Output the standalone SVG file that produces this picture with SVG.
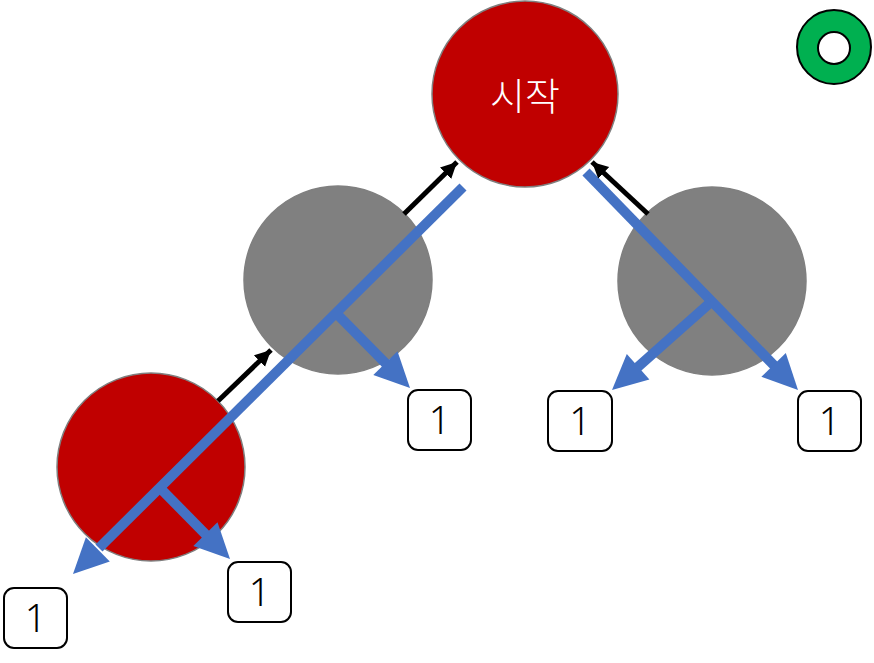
<svg xmlns="http://www.w3.org/2000/svg" width="874" height="663" viewBox="0 0 874 663">
<style>
.red{fill:#C00000;stroke:#7F7F7F;stroke-width:1.5}
.gray{fill:#808080;stroke:#7F7F7F;stroke-width:1.5}
.blue{stroke:#4472C4;stroke-width:10;fill:none}
.bh{fill:#4472C4}
.blk{stroke:#000;stroke-width:5;fill:none}
.box{fill:#fff;stroke:#000;stroke-width:2}
.num{font-family:"Noto Sans","Liberation Sans",sans-serif;font-size:38px;font-weight:300;fill:#000;text-anchor:middle}
</style>
<defs>
<marker id="kh" viewBox="0 0 10 10" refX="10" refY="5" markerWidth="3.2" markerHeight="4" orient="auto" markerUnits="strokeWidth">
<path d="M0,0 L10,5 L0,10 Z" fill="#000"/>
</marker>
</defs>
<g id="start"><circle class="red" cx="525" cy="94" r="93"/><text x="525" y="110" font-family="'Noto Sans CJK KR','Noto Sans',sans-serif" font-size="38" font-weight="300" fill="#fff" text-anchor="middle">시작</text></g>
<g id="nodeL"><circle class="gray" cx="338" cy="280" r="94"/></g>
<g id="nodeR"><circle class="gray" cx="712" cy="281" r="94"/></g>
<g id="nodeLL"><circle class="red" cx="151" cy="467" r="94"/></g>
<g id="ring"><circle cx="834" cy="47" r="37" fill="#00B050" stroke="#000" stroke-width="2"/><circle cx="834" cy="48" r="16" fill="#fff" stroke="#000" stroke-width="2"/></g>
<g id="connectors">
<line class="blue" x1="463" y1="187" x2="99" y2="548"/>
<polygon class="bh" points="73,574 109.8,561.4 85.9,537.3"/>
<line class="blue" x1="336" y1="313" x2="386.5" y2="364.2"/>
<polygon class="bh" points="410,388 373.3,375 397.5,351.2"/>
<line class="blue" x1="160" y1="488" x2="206.5" y2="535.2"/>
<polygon class="bh" points="230,559 193.3,546 217.5,522.2"/>
<line class="blue" x1="586" y1="172" x2="774.6" y2="366"/>
<polygon class="bh" points="798,390 761.4,376.8 785.8,353.1"/>
<line class="blue" x1="711" y1="302" x2="637" y2="367.8"/>
<polygon class="bh" points="612,390 649.4,379.5 626.8,354.1"/>
<line class="blk" x1="404" y1="214" x2="457" y2="162" marker-end="url(#kh)"/>
<line class="blk" x1="218" y1="401" x2="271" y2="350" marker-end="url(#kh)"/>
<line class="blk" x1="648" y1="214" x2="592" y2="162" marker-end="url(#kh)"/>
</g>
<g id="box1"><rect class="box" x="4" y="588" width="63" height="60" rx="10"/><text class="num" x="35.5" y="632">1</text></g>
<g id="box2"><rect class="box" x="228" y="562" width="63" height="60" rx="10"/><text class="num" x="259.5" y="606">1</text></g>
<g id="box3"><rect class="box" x="408" y="390" width="63" height="60" rx="10"/><text class="num" x="439.5" y="434">1</text></g>
<g id="box4"><rect class="box" x="548" y="391" width="64" height="60" rx="10"/><text class="num" x="580" y="435">1</text></g>
<g id="box5"><rect class="box" x="798" y="391" width="63" height="60" rx="10"/><text class="num" x="829.5" y="435">1</text></g>
</svg>
